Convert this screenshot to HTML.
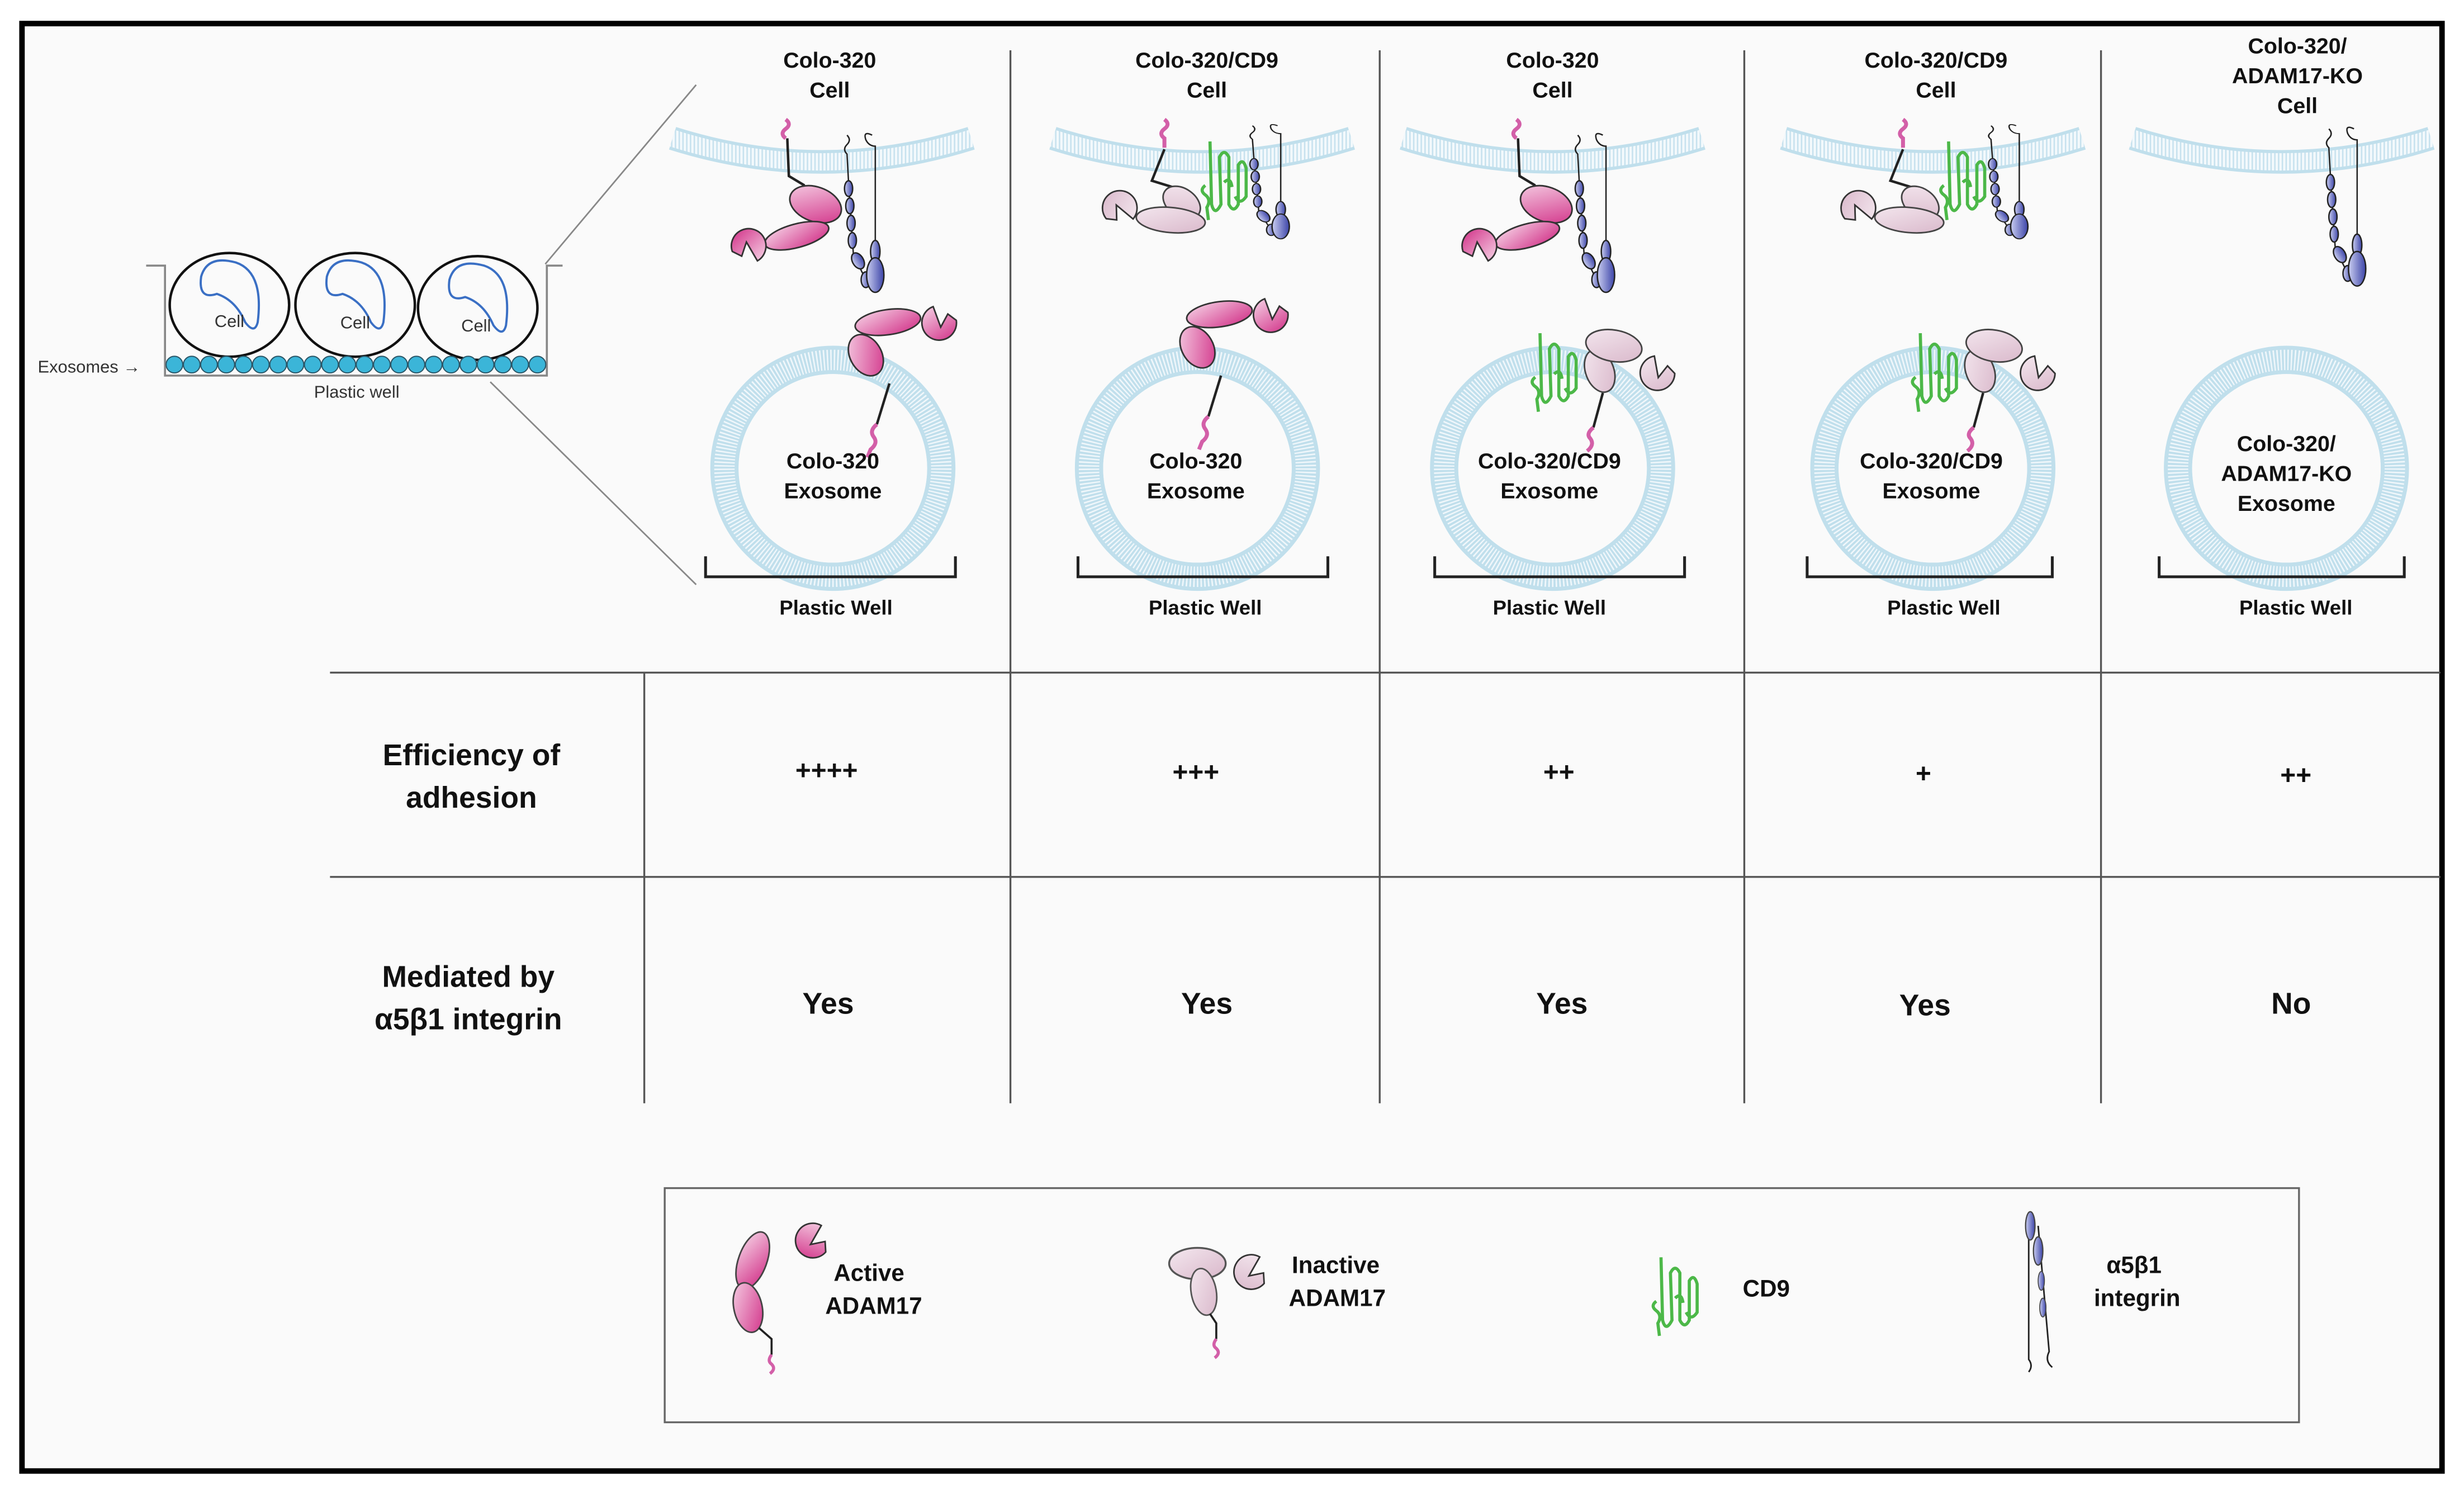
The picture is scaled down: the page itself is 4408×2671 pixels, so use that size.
<!DOCTYPE html>
<html><head><meta charset="utf-8"><style>
html,body{margin:0;padding:0;background:#fff;}
svg{display:block;}
text{font-family:"Liberation Sans",sans-serif;font-weight:bold;fill:#111;}
</style></head><body>
<svg width="4408" height="2671" viewBox="0 0 1568 950" preserveAspectRatio="none" xmlns="http://www.w3.org/2000/svg">
<defs>
<linearGradient id="gp" x1="0" y1="0" x2="1" y2="1"><stop offset="0" stop-color="#f6d3e6"/><stop offset="1" stop-color="#d12e86"/></linearGradient>
<linearGradient id="gl" x1="0" y1="0" x2="1" y2="1"><stop offset="0" stop-color="#f4e8ef"/><stop offset="1" stop-color="#d9b7ca"/></linearGradient>
<linearGradient id="gb" x1="0" y1="0" x2="1" y2="0"><stop offset="0" stop-color="#c9cdf0"/><stop offset="1" stop-color="#3c44a8"/></linearGradient>
<pattern id="stripe" width="2.4" height="4" patternUnits="userSpaceOnUse"><rect width="2.4" height="4" fill="#f3f9fc"/><rect width="0.9" height="4" fill="#c6e1ee"/></pattern>

<g id="intg" stroke="#222" stroke-width="0.9">
 <path d="M0,0 q3,3 0,6 q-3,3 0,6 L1,30 L4,75 L8,84 L13,94" fill="none"/>
 <path d="M16,0 q-6,-3 -4,3 q2,4 6,4 L18,92" fill="none"/>
 <ellipse cx="1" cy="34" rx="2.6" ry="5" fill="url(#gb)"/>
 <ellipse cx="1.8" cy="45" rx="2.6" ry="5" fill="url(#gb)"/>
 <ellipse cx="2.6" cy="56" rx="2.6" ry="5" fill="url(#gb)"/>
 <ellipse cx="3.4" cy="67" rx="2.6" ry="5" fill="url(#gb)"/>
 <ellipse cx="7" cy="80" rx="3.5" ry="5.5" transform="rotate(-30 7 80)" fill="url(#gb)"/>
 <ellipse cx="12" cy="92" rx="3" ry="5" fill="url(#gb)"/>
 <ellipse cx="18" cy="74" rx="3" ry="7" fill="url(#gb)"/>
 <ellipse cx="18" cy="89" rx="5.5" ry="11" fill="url(#gb)"/>
</g>

<g id="pac">
 <path d="M-6,-10 A11,11 0 1 0 10,-4 L4,-7 L1,2 Z" stroke="#333" stroke-width="1"/>
</g>

<g id="actCell">
 <path d="M500,76 q4,3 0,6 q-4,3 0,6" stroke="#d35fa8" stroke-width="2.5" fill="none"/>
 <path d="M501,88 L502,112 L512,118" stroke="#222" stroke-width="1.6" fill="none"/>
 <ellipse cx="519" cy="130" rx="17" ry="11" transform="rotate(20 519 130)" fill="url(#gp)" stroke="#333" stroke-width="1"/>
 <ellipse cx="507" cy="150" rx="21" ry="7.5" transform="rotate(-15 507 150)" fill="url(#gp)" stroke="#333" stroke-width="1"/>
 <use href="#pac" transform="translate(476,156) rotate(180)" fill="url(#gp)"/>
</g>

<g id="inaCell">
 <path d="M741,76 q4,3 0,6 q-4,3 0,6 l0,6" stroke="#d35fa8" stroke-width="2.5" fill="none"/>
 <path d="M741,95 L733,115 L746,119" stroke="#222" stroke-width="1.6" fill="none"/>
 <ellipse cx="752" cy="129" rx="13" ry="9" transform="rotate(35 752 129)" fill="url(#gl)" stroke="#444" stroke-width="1"/>
 <ellipse cx="745" cy="140" rx="22" ry="8" transform="rotate(5 745 140)" fill="url(#gl)" stroke="#444" stroke-width="1"/>
 <use href="#pac" transform="translate(712,132) rotate(160)" fill="url(#gl)"/>
</g>

<g id="cd9" fill="none" stroke="#4cb848" stroke-width="2">
 <path d="M0,0 L1,40 q2,8 6,0 L6,10 q3,-6 6,0 l0,30 q3,6 6,0 l0,-25 q3,-5 5,2 l0,18 q-4,6 -7,0 M-3,28 q-4,3 0,6 q4,3 1,8 L-1,50 M9,26 q4,-4 5,3"/>
</g>

<g id="exoAct">
 <path d="M558,270 L566,244" stroke="#222" stroke-width="1.6" fill="none"/>
 <path d="M558,270 q-5,4 -2,8 q3,4 -2,8 l-2,5" stroke="#d35fa8" stroke-width="2.5" fill="none"/>
 <ellipse cx="551" cy="226" rx="10" ry="14" transform="rotate(-30 551 226)" fill="url(#gp)" stroke="#333" stroke-width="1"/>
 <ellipse cx="565" cy="205" rx="21" ry="8" transform="rotate(-8 565 205)" fill="url(#gp)" stroke="#333" stroke-width="1"/>
 <use href="#pac" transform="translate(598,206) rotate(10)" fill="url(#gp)"/>
</g>

<g id="exoIna">
 <use href="#cd9" transform="translate(980,212)"/>
 <path d="M1014,272 L1020,250" stroke="#222" stroke-width="1.6" fill="none"/>
 <path d="M1014,272 q-5,4 -2,7 q3,4 -2,8" stroke="#d35fa8" stroke-width="2.5" fill="none"/>
 <ellipse cx="1018" cy="236" rx="9" ry="14" transform="rotate(-20 1018 236)" fill="url(#gl)" stroke="#444" stroke-width="1"/>
 <ellipse cx="1027" cy="220" rx="18" ry="10" transform="rotate(10 1027 220)" fill="url(#gl)" stroke="#444" stroke-width="1"/>
 <use href="#pac" transform="translate(1055,238) rotate(20)" fill="url(#gl)"/>
</g>

<g id="memb">
 <path d="M-95,88 Q0,118 95,88" fill="none" stroke="#c0dfec" stroke-width="15"/>
 <path d="M-95,88 Q0,118 95,88" fill="none" stroke="url(#stripe)" stroke-width="11"/>
</g>
<g id="exo">
 <circle r="69" fill="none" stroke="#c0dfec" stroke-width="18"/>
 <circle r="69" fill="none" stroke="#f0f7fb" stroke-width="13" stroke-dasharray="0.9 1.3"/>
 <circle r="60" fill="#fafafa"/>
</g>
</defs>

<rect x="0" y="0" width="1568" height="950" fill="#ffffff"/>
<rect x="14" y="15" width="1540" height="921" fill="#fafafa" stroke="#000" stroke-width="3.5"/>

<g stroke="#555" stroke-width="1.2">
 <line x1="643" y1="32" x2="643" y2="702"/>
 <line x1="878" y1="32" x2="878" y2="702"/>
 <line x1="1110" y1="32" x2="1110" y2="702"/>
 <line x1="1337" y1="32" x2="1337" y2="702"/>
 <line x1="410" y1="428" x2="410" y2="702"/>
 <line x1="210" y1="428" x2="1553" y2="428"/>
 <line x1="210" y1="558" x2="1553" y2="558"/>
</g>

<g>
 <line x1="347" y1="168" x2="443" y2="54" stroke="#888" stroke-width="1"/>
 <line x1="312" y1="243" x2="443" y2="372" stroke="#888" stroke-width="1"/>
 <path d="M93,169 L105,169 L105,239 L348,239 L348,169 L358,169" fill="none" stroke="#888" stroke-width="1.3"/>
 <g fill="#fafafa" stroke="#111" stroke-width="1.6">
  <ellipse cx="146" cy="194" rx="38" ry="33"/>
  <ellipse cx="226" cy="194" rx="38" ry="33"/>
  <ellipse cx="304" cy="196" rx="38" ry="33"/>
 </g>
 <g fill="none" stroke="#3a6fc4" stroke-width="1.4">
  <path d="M128,176 q4,-14 22,-9 q18,6 14,38 q-2,8 -8,0 q-6,-14 -18,-18 q-12,4 -10,-11z"/>
  <path d="M208,176 q4,-14 22,-9 q18,6 14,38 q-2,8 -8,0 q-6,-14 -18,-18 q-12,4 -10,-11z"/>
  <path d="M286,178 q4,-14 22,-9 q18,6 14,38 q-2,8 -8,0 q-6,-14 -18,-18 q-12,4 -10,-11z"/>
 </g>
 <text x="146" y="208" font-size="11" text-anchor="middle" style="font-weight:normal;fill:#333">Cell</text>
 <text x="226" y="209" font-size="11" text-anchor="middle" style="font-weight:normal;fill:#333">Cell</text>
 <text x="303" y="211" font-size="11" text-anchor="middle" style="font-weight:normal;fill:#333">Cell</text>
 <g fill="#3bb5d8" stroke="#2a5566" stroke-width="0.7">
  <circle cx="111" cy="232" r="5.3"/><circle cx="122" cy="232" r="5.3"/><circle cx="133" cy="232" r="5.3"/><circle cx="144" cy="232" r="5.3"/><circle cx="155" cy="232" r="5.3"/><circle cx="166" cy="232" r="5.3"/><circle cx="177" cy="232" r="5.3"/><circle cx="188" cy="232" r="5.3"/><circle cx="199" cy="232" r="5.3"/><circle cx="210" cy="232" r="5.3"/><circle cx="221" cy="232" r="5.3"/><circle cx="232" cy="232" r="5.3"/><circle cx="243" cy="232" r="5.3"/><circle cx="254" cy="232" r="5.3"/><circle cx="265" cy="232" r="5.3"/><circle cx="276" cy="232" r="5.3"/><circle cx="287" cy="232" r="5.3"/><circle cx="298" cy="232" r="5.3"/><circle cx="309" cy="232" r="5.3"/><circle cx="320" cy="232" r="5.3"/><circle cx="331" cy="232" r="5.3"/><circle cx="342" cy="232" r="5.3"/>
 </g>
 <text x="24" y="237" font-size="11" style="font-weight:normal;fill:#333">Exosomes →</text>
 <text x="227" y="253" font-size="11" text-anchor="middle" style="font-weight:normal;fill:#333">Plastic well</text>
</g>

<g font-size="14" text-anchor="middle">
 <text x="528" y="43">Colo-320</text><text x="528" y="62">Cell</text>
 <text x="768" y="43">Colo-320/CD9</text><text x="768" y="62">Cell</text>
 <text x="988" y="43">Colo-320</text><text x="988" y="62">Cell</text>
 <text x="1232" y="43">Colo-320/CD9</text><text x="1232" y="62">Cell</text>
 <text x="1462" y="34">Colo-320/</text><text x="1462" y="53">ADAM17-KO</text><text x="1462" y="72">Cell</text>
</g>

<use href="#memb" transform="translate(523,0)"/>
<use href="#memb" transform="translate(765,0)"/>
<use href="#memb" transform="translate(988,0)"/>
<use href="#memb" transform="translate(1230,0)"/>
<use href="#memb" transform="translate(1452,0)"/>

<use href="#exo" transform="translate(530,298)"/>
<use href="#exo" transform="translate(762,298)"/>
<use href="#exo" transform="translate(988,298)"/>
<use href="#exo" transform="translate(1230,298)"/>
<use href="#exo" transform="translate(1455,298)"/>

<use href="#actCell"/>
<use href="#intg" transform="translate(539,86)"/>
<use href="#inaCell"/>
<use href="#cd9" transform="translate(770,90)"/>
<use href="#intg" transform="translate(797,80) scale(1,0.72)"/>
<use href="#actCell" transform="translate(465,0)"/>
<use href="#intg" transform="translate(1004,86)"/>
<use href="#inaCell" transform="translate(470,0)"/>
<use href="#cd9" transform="translate(1240,90)"/>
<use href="#intg" transform="translate(1267,80) scale(1,0.72)"/>
<use href="#intg" transform="translate(1482,82)"/>

<use href="#exoAct"/>
<use href="#exoAct" transform="translate(211,-5)"/>
<use href="#exoIna"/>
<use href="#exoIna" transform="translate(242,0)"/>

<g font-size="14" text-anchor="middle">
 <text x="530" y="298">Colo-320</text><text x="530" y="317">Exosome</text>
 <text x="761" y="298">Colo-320</text><text x="761" y="317">Exosome</text>
 <text x="986" y="298">Colo-320/CD9</text><text x="986" y="317">Exosome</text>
 <text x="1229" y="298">Colo-320/CD9</text><text x="1229" y="317">Exosome</text>
 <text x="1455" y="287">Colo-320/</text><text x="1455" y="306">ADAM17-KO</text><text x="1455" y="325">Exosome</text>
</g>

<g fill="none" stroke="#222" stroke-width="1.8">
 <path d="M449,354 L449,367 L608,367 L608,354"/>
 <path d="M686,354 L686,367 L845,367 L845,354"/>
 <path d="M913,354 L913,367 L1072,367 L1072,354"/>
 <path d="M1150,354 L1150,367 L1306,367 L1306,354"/>
 <path d="M1374,354 L1374,367 L1530,367 L1530,354"/>
</g>
<g font-size="13" text-anchor="middle">
 <text x="532" y="391">Plastic Well</text>
 <text x="767" y="391">Plastic Well</text>
 <text x="986" y="391">Plastic Well</text>
 <text x="1237" y="391">Plastic Well</text>
 <text x="1461" y="391">Plastic Well</text>
</g>

<g font-size="19" text-anchor="middle">
 <text x="300" y="487">Efficiency of</text><text x="300" y="514">adhesion</text>
 <text x="298" y="628">Mediated by</text><text x="298" y="655">α5β1 integrin</text>
</g>
<g font-size="17" text-anchor="middle">
 <text x="526" y="496">++++</text>
 <text x="761" y="497">+++</text>
 <text x="992" y="497">++</text>
 <text x="1224" y="498">+</text>
 <text x="1461" y="499">++</text>
</g>
<g font-size="19" text-anchor="middle">
 <text x="527" y="645">Yes</text>
 <text x="768" y="645">Yes</text>
 <text x="994" y="645">Yes</text>
 <text x="1225" y="646">Yes</text>
 <text x="1458" y="645">No</text>
</g>

<rect x="423" y="756" width="1040" height="149" fill="#fafafa" stroke="#666" stroke-width="1.2"/>
<g>
 <ellipse cx="479" cy="802" rx="9" ry="19" transform="rotate(20 479 802)" fill="url(#gp)" stroke="#444" stroke-width="1"/>
 <ellipse cx="476" cy="832" rx="9" ry="16" transform="rotate(-12 476 832)" fill="url(#gp)" stroke="#444" stroke-width="1"/>
 <use href="#pac" transform="translate(517,790) rotate(60)" fill="url(#gp)"/>
 <path d="M483,845 L491,852 L491,862" stroke="#222" stroke-width="1.3" fill="none"/>
 <path d="M491,862 q-3,4 0,6 q3,3 -1,6" stroke="#d35fa8" stroke-width="2" fill="none"/>
 <text x="553" y="815" font-size="15" text-anchor="middle">Active</text>
 <text x="556" y="836" font-size="15" text-anchor="middle">ADAM17</text>

 <ellipse cx="762" cy="804" rx="18" ry="10" fill="url(#gl)" stroke="#555" stroke-width="1.2"/>
 <ellipse cx="766" cy="822" rx="8" ry="15" transform="rotate(-10 766 822)" fill="url(#gl)" stroke="#555" stroke-width="1"/>
 <use href="#pac" transform="translate(796,810) rotate(60)" fill="url(#gl)"/>
 <path d="M770,836 L774,842 L774,852" stroke="#222" stroke-width="1.3" fill="none"/>
 <path d="M774,852 q-3,4 0,6 q3,3 -1,6" stroke="#d35fa8" stroke-width="2" fill="none"/>
 <text x="850" y="810" font-size="15" text-anchor="middle">Inactive</text>
 <text x="851" y="831" font-size="15" text-anchor="middle">ADAM17</text>

 <use href="#cd9" transform="translate(1057,800)"/>
 <text x="1124" y="825" font-size="15" text-anchor="middle">CD9</text>

 <g stroke="#222" stroke-width="1" fill="none">
  <path d="M1291,772 L1291,865 q3,4 0,8"/>
  <path d="M1297,780 L1304,860 q-3,6 2,10"/>
 </g>
 <ellipse cx="1292" cy="780" rx="3" ry="9" fill="url(#gb)" stroke="#444" stroke-width="0.8"/>
 <ellipse cx="1297" cy="796" rx="3" ry="9" fill="url(#gb)" stroke="#444" stroke-width="0.8"/>
 <ellipse cx="1299" cy="815" rx="2" ry="6" fill="url(#gb)" stroke="#444" stroke-width="0.6"/>
 <ellipse cx="1300" cy="832" rx="2" ry="6" fill="url(#gb)" stroke="#444" stroke-width="0.6"/>
 <text x="1358" y="810" font-size="15" text-anchor="middle">α5β1</text>
 <text x="1360" y="831" font-size="15" text-anchor="middle">integrin</text>
</g>
</svg>
</body></html>
